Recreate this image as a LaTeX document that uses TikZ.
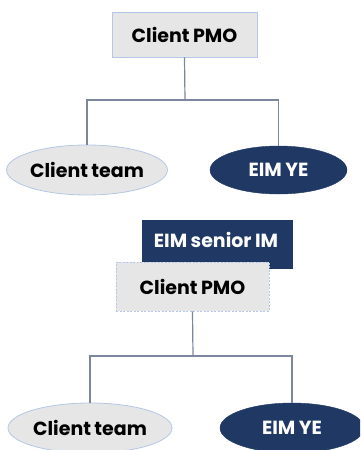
\documentclass[tikz,border=0pt]{standalone}
\usepackage{fontspec}
\setmainfont{Poppins}[WordSpace={0.85}]
\usetikzlibrary{shapes.geometric}
\definecolor{navy}{HTML}{203864}
\definecolor{lgray}{HTML}{E6E6E6}
\definecolor{lblue}{HTML}{B4C7E7}
\definecolor{conn}{HTML}{7A879C}
\tikzset{
  lbl/.style={font=\fontsize{19}{19}\selectfont\bfseries},
  graybox/.style={rectangle, fill=lgray, draw=lblue, line width=0.8pt, inner sep=0pt, lbl},
  dashbox/.style={graybox, dashed, dash pattern=on 2pt off 1.5pt},
  navybox/.style={rectangle, fill=navy, draw=navy, inner sep=0pt, text=white, lbl},
  grayell/.style={ellipse, fill=lgray, draw=lblue, line width=0.8pt, inner sep=0pt, lbl},
  navyell/.style={ellipse, fill=navy, draw=navy, inner sep=0pt, text=white, lbl},
  link/.style={draw=conn, line width=1.2pt}
}
\begin{document}
\begin{tikzpicture}[x=1pt,y=-1pt]
\useasboundingbox (0,0) rectangle (360,450);
\clip (0,0) rectangle (360,450);
% top chart
\node[graybox, minimum width=145pt, minimum height=45pt] (pmo1) at (184.5,34.5) {Client PMO};
\node[grayell, minimum width=158pt, minimum height=50pt] (ct1) at (87,170) {Client team};
\node[navyell, minimum width=137pt, minimum height=48pt] (ye1) at (278.5,170) {EIM YE};
\coordinate (j1) at (185,100);
\draw[link] (pmo1.south) -- (j1);
\draw[link] (ct1.north) |- (j1) -| (ye1.north);
% bottom chart
\node[navybox, minimum width=150pt, minimum height=48pt, anchor=north west] (sim) at (142,220) {};
\node[lbl, text=white] (simt) at (216,240) {EIM senior IM};
\node[dashbox, minimum width=153pt, minimum height=49pt] (pmo2) at (192.5,286.5) {Client PMO};
\node[grayell, minimum width=164pt, minimum height=50pt] (ct2) at (90,428) {Client team};
\node[navyell, minimum width=144pt, minimum height=50pt] (ye2) at (292,428) {EIM YE};
\coordinate (j2) at (193,356);
\draw[link] (pmo2.south) -- (j2);
\draw[link] (ct2.north) |- (j2) -| (ye2.north);
\end{tikzpicture}
\end{document}
